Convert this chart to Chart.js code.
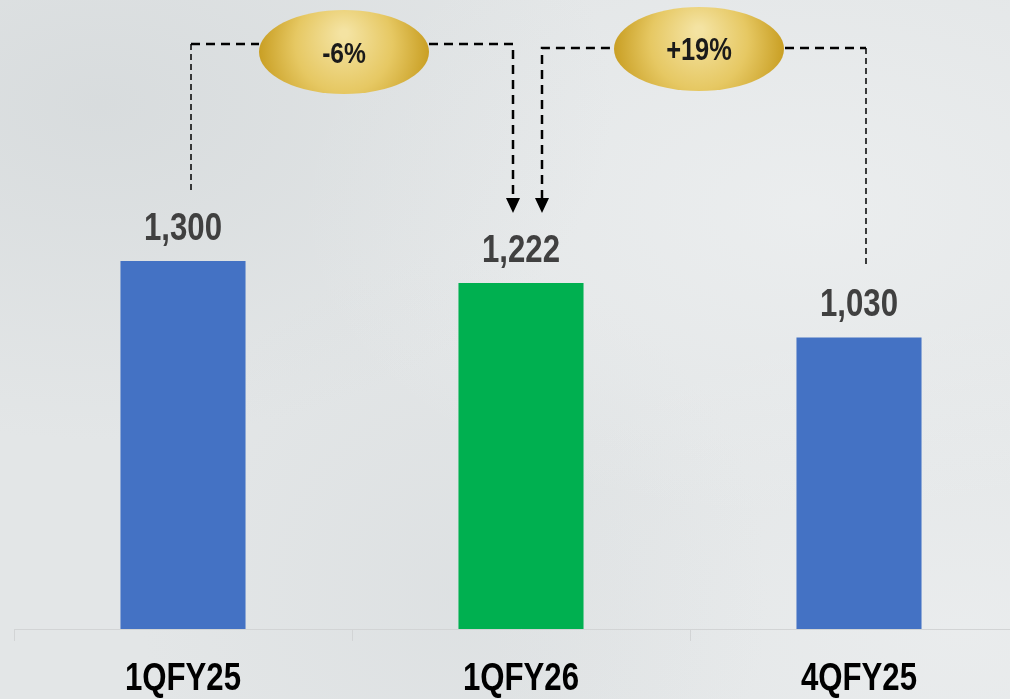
<!DOCTYPE html>
<html>
<head>
<meta charset="utf-8">
<script src="https://cdn.jsdelivr.net/npm/chart.js@4"></script>
<style>
  html, body { margin: 0; padding: 0; overflow: hidden; }
  body {
    width: 1010px; height: 699px;
    background-color: #e3e6e7;
    background-image:
      radial-gradient(ellipse at 10% 15%, rgba(205,210,212,0.5), rgba(205,210,212,0) 40%),
      radial-gradient(ellipse at 80% 30%, rgba(240,242,243,0.6), rgba(240,242,243,0) 45%),
      radial-gradient(ellipse at 45% 85%, rgba(215,219,221,0.45), rgba(215,219,221,0) 40%),
      radial-gradient(ellipse at 95% 90%, rgba(238,240,241,0.6), rgba(238,240,241,0) 35%);
  }
  #wrap { position: relative; width: 1030px; height: 699px; }
</style>
</head>
<body>
<div id="wrap"><canvas id="chart" width="1030" height="699"></canvas></div>
<script>
// データ
const categories = ['1QFY25', '1QFY26', '4QFY25'];
const values = [1300, 1222, 1030];
const barColors = ['#4472C4', '#00B050', '#4472C4'];
// 増減ラベル（左: 1QFY25→1QFY26, 右: 4QFY25→1QFY26）
const changeLabels = ['-6%', '+19%'];

// Arial Narrow の代わりに Liberation Sans を横方向に縮める
const FONT = '"Liberation Sans", Arial, sans-serif';
const NARROW = 0.82;

function narrowText(ctx, text, x, y, size, color) {
    ctx.save();
    ctx.translate(x, y);
    ctx.scale(NARROW, 1);
    ctx.font = 'bold ' + size + 'px ' + FONT;
    ctx.fillStyle = color;
    ctx.textAlign = 'center';
    ctx.textBaseline = 'alphabetic';
    ctx.fillText(text, 0, 0);
    ctx.restore();
}

// 金色の楕円
function drawBadge(ctx, cx, cy, rx, ry, text, size) {
    const g = ctx.createRadialGradient(cx, cy - ry * 0.45, 4, cx, cy, rx);
    g.addColorStop(0, '#f4e3a2');
    g.addColorStop(0.55, '#e6c863');
    g.addColorStop(1, '#c99f24');
    ctx.save();
    ctx.beginPath();
    ctx.ellipse(cx, cy, rx, ry, 0, 0, Math.PI * 2);
    ctx.fillStyle = g;
    ctx.fill();
    ctx.restore();
    narrowText(ctx, text, cx, cy + size * 0.36, size, '#1a1a1a');
}

function dashLine(ctx, pts, width, dash) {
    ctx.save();
    ctx.strokeStyle = '#000';
    ctx.lineWidth = width;
    ctx.setLineDash(dash);
    ctx.beginPath();
    ctx.moveTo(pts[0][0], pts[0][1]);
    for (let i = 1; i < pts.length; i++) ctx.lineTo(pts[i][0], pts[i][1]);
    ctx.stroke();
    ctx.restore();
}

function arrowHead(ctx, x, tipY) {
    ctx.save();
    ctx.fillStyle = '#000';
    ctx.beginPath();
    ctx.moveTo(x - 7, tipY - 15);
    ctx.lineTo(x + 7, tipY - 15);
    ctx.lineTo(x, tipY);
    ctx.closePath();
    ctx.fill();
    ctx.restore();
}

// ラベルと矢印を描くプラグイン
const annotatePlugin = {
    id: 'annotate',
    afterDatasetsDraw(chart) {
        const ctx = chart.ctx;
        const bars = chart.getDatasetMeta(0).data;
        const xScale = chart.scales.x;

        // カテゴリラベル（x軸の目盛り位置に）
        categories.forEach((c, i) => {
            narrowText(ctx, c, xScale.getPixelForTick(i), xScale.top + 61, 38, '#000');
        });

        // 値ラベル
        bars.forEach((b, i) => {
            narrowText(ctx, values[i].toLocaleString('en-US'), b.x, b.y - 21, 38, '#404040');
        });

        const b0 = bars[0], b1 = bars[1], b2 = bars[2];

        // 左側の接続線
        const lx = b0.x + 8, ly = 44;
        const ax1 = b1.x - 8;
        dashLine(ctx, [[lx, b0.y - 71], [lx, ly]], 1.5, [6, 4]);
        dashLine(ctx, [[lx, ly], [259, ly]], 2.5, [9, 6]);
        dashLine(ctx, [[429, ly], [ax1, ly], [ax1, b1.y - 84]], 2.5, [9, 6]);
        arrowHead(ctx, ax1, b1.y - 70);
        drawBadge(ctx, 344, 52, 85, 42, changeLabels[0], 30);

        // 右側の接続線
        const ry = 48;
        const ax2 = b1.x + 21;
        const rx = b2.x + 7;
        dashLine(ctx, [[ax2, b1.y - 84], [ax2, ry], [614, ry]], 2.5, [9, 6]);
        dashLine(ctx, [[785, ry], [rx, ry]], 2.5, [9, 6]);
        dashLine(ctx, [[rx, ry], [rx, b2.y - 70]], 1.5, [6, 4]);
        arrowHead(ctx, ax2, b1.y - 70);
        drawBadge(ctx, 699, 49, 85, 42, changeLabels[1], 31);
    }
};

const ctx = document.getElementById('chart').getContext('2d');
const chart = new Chart(ctx, {
    type: 'bar',
    data: {
        labels: categories,
        datasets: [{
            data: values,
            backgroundColor: barColors,
            borderWidth: 0,
            categoryPercentage: 1,
            barPercentage: 0.37
        }]
    },
    options: {
        responsive: false,
        animation: false,
        layout: { padding: { left: 14, right: 2, top: 0, bottom: 0 } },
        plugins: {
            legend: { display: false },
            tooltip: { enabled: false }
        },
        scales: {
            y: { display: false, min: 0, max: 2222 },
            x: {
                afterFit: (scale) => { scale.height = 70; },
                grid: {
                    drawOnChartArea: false,
                    drawTicks: true,
                    tickLength: 12,
                    color: '#d2d4d5'
                },
                border: { color: '#d2d4d5', width: 1 },
                ticks: { display: false }
            }
        }
    },
    plugins: [annotatePlugin]
});
</script>
</body>
</html>
